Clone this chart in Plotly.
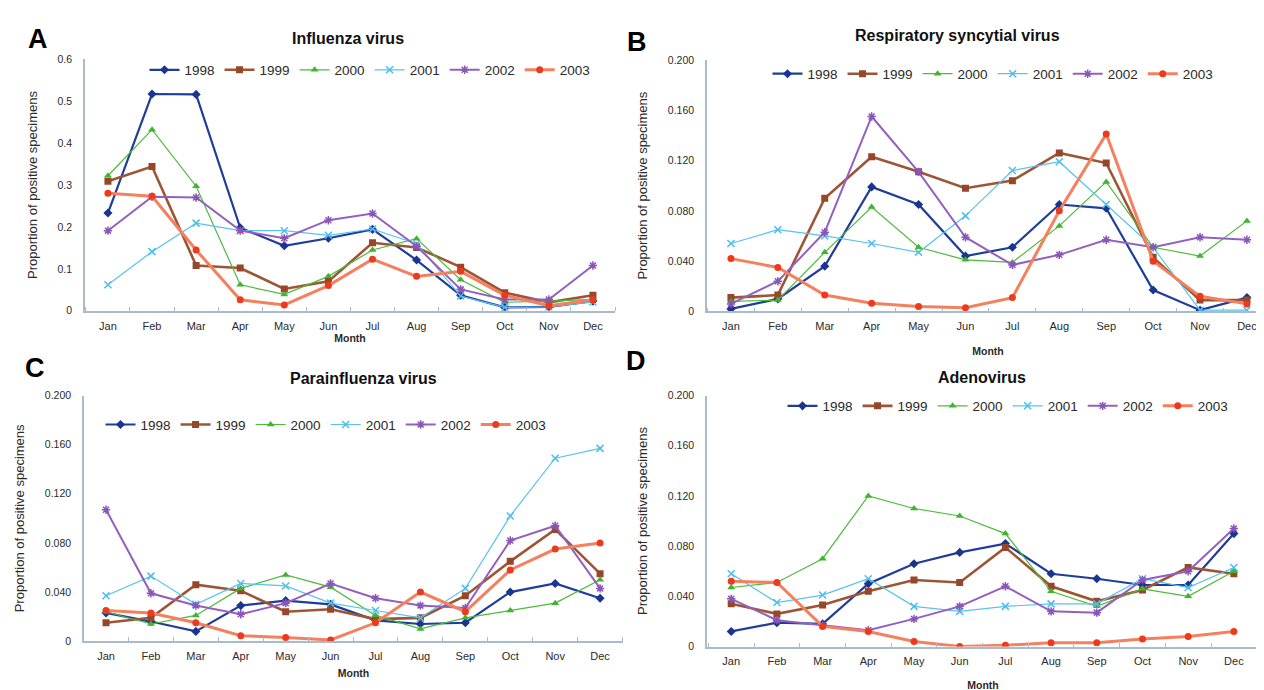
import plotly.graph_objects as go

months = ["Jan", "Feb", "Mar", "Apr", "May", "Jun", "Jul", "Aug", "Sep", "Oct", "Nov", "Dec"]
years = ["1998", "1999", "2000", "2001", "2002", "2003"]

# Panel A: Influenza virus
flu_1998 = [0.233, 0.517, 0.516, 0.198, 0.155, 0.173, 0.194, 0.121, 0.037, 0.008, 0.009, 0.023]
flu_1999 = [0.309, 0.344, 0.108, 0.102, 0.052, 0.070, 0.162, 0.151, 0.104, 0.043, 0.020, 0.037]
flu_2000 = [0.322, 0.432, 0.297, 0.062, 0.039, 0.082, 0.145, 0.172, 0.074, 0.020, 0.023, 0.027]
flu_2001 = [0.062, 0.141, 0.209, 0.191, 0.191, 0.180, 0.195, 0.160, 0.035, 0.008, 0.009, 0.021]
flu_2002 = [0.191, 0.272, 0.270, 0.191, 0.173, 0.216, 0.232, 0.154, 0.051, 0.027, 0.027, 0.108]
flu_2003 = [0.280, 0.273, 0.145, 0.026, 0.014, 0.060, 0.123, 0.082, 0.094, 0.037, 0.012, 0.026]

# Panel B: Respiratory syncytial virus
rsv_1998 = [0.002, 0.010, 0.036, 0.099, 0.085, 0.044, 0.051, 0.085, 0.082, 0.017, 0.001, 0.011]
rsv_1999 = [0.011, 0.013, 0.090, 0.123, 0.111, 0.098, 0.104, 0.126, 0.118, 0.043, 0.009, 0.009]
rsv_2000 = [0.008, 0.009, 0.047, 0.083, 0.051, 0.041, 0.039, 0.068, 0.103, 0.051, 0.044, 0.072]
rsv_2001 = [0.054, 0.065, 0.060, 0.054, 0.047, 0.076, 0.112, 0.119, 0.085, 0.051, 0.001, 0.001]
rsv_2002 = [0.006, 0.024, 0.063, 0.155, 0.111, 0.059, 0.037, 0.045, 0.057, 0.051, 0.059, 0.057]
rsv_2003 = [0.042, 0.035, 0.013, 0.0065, 0.004, 0.003, 0.011, 0.080, 0.141, 0.040, 0.012, 0.006]

# Panel C: Parainfluenza virus
piv_1998 = [0.023, 0.016, 0.008, 0.029, 0.033, 0.030, 0.017, 0.014, 0.015, 0.040, 0.047, 0.035]
piv_1999 = [0.015, 0.019, 0.046, 0.041, 0.024, 0.026, 0.018, 0.019, 0.037, 0.065, 0.091, 0.055]
piv_2000 = [0.024, 0.014, 0.021, 0.043, 0.054, 0.044, 0.021, 0.010, 0.019, 0.025, 0.031, 0.050]
piv_2001 = [0.037, 0.053, 0.030, 0.047, 0.045, 0.031, 0.025, 0.019, 0.043, 0.102, 0.149, 0.157]
piv_2002 = [0.107, 0.039, 0.029, 0.022, 0.031, 0.047, 0.035, 0.029, 0.027, 0.082, 0.094, 0.043]
piv_2003 = [0.025, 0.023, 0.015, 0.0045, 0.003, 0.001, 0.015, 0.040, 0.024, 0.058, 0.075, 0.080]

# Panel D: Adenovirus
adv_1998 = [0.012, 0.019, 0.018, 0.050, 0.066, 0.075, 0.082, 0.058, 0.054, 0.049, 0.049, 0.090]
adv_1999 = [0.034, 0.026, 0.033, 0.044, 0.053, 0.051, 0.079, 0.048, 0.036, 0.045, 0.063, 0.058]
adv_2000 = [0.047, 0.051, 0.070, 0.120, 0.110, 0.104, 0.090, 0.044, 0.032, 0.046, 0.040, 0.060]
adv_2001 = [0.058, 0.035, 0.041, 0.054, 0.032, 0.028, 0.032, 0.034, 0.034, 0.054, 0.047, 0.063]
adv_2002 = [0.038, 0.021, 0.017, 0.013, 0.022, 0.032, 0.048, 0.028, 0.027, 0.053, 0.060, 0.094]
adv_2003 = [0.052, 0.051, 0.016, 0.012, 0.004, 0.000, 0.001, 0.003, 0.003, 0.006, 0.008, 0.012]

panel_titles = ["Influenza virus", "Respiratory syncytial virus", "Parainfluenza virus", "Adenovirus"]
panel_letters = ["A", "B", "C", "D"]

panels = [
    [flu_1998, flu_1999, flu_2000, flu_2001, flu_2002, flu_2003],
    [rsv_1998, rsv_1999, rsv_2000, rsv_2001, rsv_2002, rsv_2003],
    [piv_1998, piv_1999, piv_2000, piv_2001, piv_2002, piv_2003],
    [adv_1998, adv_1999, adv_2000, adv_2001, adv_2002, adv_2003],
]

W, H = 1264, 690
FONT = "Liberation Sans, Arial, sans-serif"
AXIS_COLOR = "#a9bccb"
TEXT = "#2a2a2a"

line_colors = ["#1f3d9a", "#9c5535", "#4dbb3a", "#58c3ef", "#9460c0", "#f4805f"]
marker_colors = ["#1a3590", "#96472a", "#3fb52e", "#4fbdeb", "#8a55b8", "#ee3a1c"]
line_widths = [2.2, 2.6, 1.2, 1.2, 2.0, 3.0]
symbols = ["diamond", "square", "triangle-up", "x-thin-open", "asterisk-open", "circle"]
marker_sizes = [7, 7, 7, 7, 7, 7]


def px_x(v):
    return v / W


def px_y(v):
    return 1 - v / H


# plot areas in pixels: (left, right, bottom, top)
areas = [(77, 607, 302, 46), (699, 1261, 302.7, 46.7), (76, 615, 638.3, 388.3), (699, 1251, 643.7, 388.3)]
xranges = [[-0.52, 11.5], [-0.51, 11.47], [-0.49, 11.51], [-0.53, 11.55]]
yranges = [[0, 0.6], [0, 0.2], [0, 0.2], [0, 0.2]]
month_standoff = [4, 16, 9, 15]
legend_pos = [(362, 57), (985, 61), (318, 418), (1000, 399)]
title_pos = [(340, 25), (949, 22), (355, 371), (974, 370)]
letter_pos = [(30, 25), (629, 28), (27, 360), (628, 353)]

fig = go.Figure()
layout = dict(
    width=W, height=H,
    margin=dict(l=0, r=0, t=0, b=0),
    paper_bgcolor="white", plot_bgcolor="white",
    font=dict(family=FONT, color=TEXT),
    annotations=[],
)

for i, values in enumerate(panels):
    sfx = "" if i == 0 else str(i + 1)
    leg = "legend" if i == 0 else "legend" + str(i + 1)
    for j, yr in enumerate(years):
        fig.add_trace(go.Scatter(
            x=list(range(12)), y=values[j], name=yr,
            mode="lines+markers",
            line=dict(color=line_colors[j], width=line_widths[j]),
            marker=dict(symbol=symbols[j], size=marker_sizes[j], color=marker_colors[j],
                        line=dict(color=marker_colors[j], width=1.5 if symbols[j].endswith("open") else 0)),
            xaxis="x" + sfx, yaxis="y" + sfx, legend=leg,
        ))
    l, r, b, t = areas[i]
    xa = dict(
        domain=[px_x(l), px_x(r)], range=xranges[i], anchor="y" + sfx,
        tickmode="array", tickvals=list(range(12)), ticktext=months,
        ticks="", showgrid=False, zeroline=False,
        showline=True, linecolor=AXIS_COLOR, linewidth=1.5,
        tickfont=dict(size=11, color=TEXT, family=FONT),
        ticklabelstandoff=4,
        minor=dict(tickmode="array", tickvals=[k + 0.5 for k in range(-1, 12)],
                   ticks="inside", ticklen=4, tickcolor=AXIS_COLOR, tickwidth=1, showgrid=False),
        title=dict(text="<b>Month</b>", font=dict(size=10.5, color=TEXT, family=FONT), standoff=month_standoff[i]),
        fixedrange=True,
    )
    if i == 0:
        yt = dict(tickvals=[0, 0.1, 0.2, 0.3, 0.4, 0.5, 0.6], ticktext=["0", "0.1", "0.2", "0.3", "0.4", "0.5", "0.6"])
    else:
        yt = dict(tickvals=[0, 0.04, 0.08, 0.12, 0.16, 0.2], ticktext=["0", "0.040", "0.080", "0.120", "0.160", "0.200"])
    ya = dict(
        domain=[px_y(b), px_y(t)], range=yranges[i], anchor="x" + sfx,
        tickmode="array", **yt,
        ticks="", showgrid=False, zeroline=False,
        showline=True, linecolor=AXIS_COLOR, linewidth=1.5,
        tickfont=dict(size=10.5, color=TEXT, family=FONT),
        ticklabelstandoff=9,
        title=dict(text="Proportion of positive specimens", font=dict(size=13, color=TEXT, family=FONT), standoff=17),
        fixedrange=True,
    )
    layout["xaxis" + sfx] = xa
    layout["yaxis" + sfx] = ya
    lx, ly = legend_pos[i]
    layout[leg] = dict(
        orientation="h", x=px_x(lx), y=px_y(ly), xanchor="center", yanchor="middle",
        font=dict(size=13.5, color=TEXT, family=FONT), bgcolor="rgba(0,0,0,0)",
        itemwidth=30, itemclick=False, itemdoubleclick=False,
    )
    tx, ty = title_pos[i]
    layout["annotations"].append(dict(
        text="<b>" + panel_titles[i] + "</b>", x=px_x(tx), y=px_y(ty), xref="paper", yref="paper",
        xanchor="center", yanchor="middle", showarrow=False,
        font=dict(size=16, color="#111111", family=FONT),
    ))
    cx, cy = letter_pos[i]
    layout["annotations"].append(dict(
        text="<b>" + panel_letters[i] + "</b>", x=px_x(cx), y=px_y(cy), xref="paper", yref="paper",
        xanchor="center", yanchor="middle", showarrow=False,
        font=dict(size=27, color="#000000", family=FONT),
    ))

fig.update_layout(**layout)
fig.write_html("out.html")
